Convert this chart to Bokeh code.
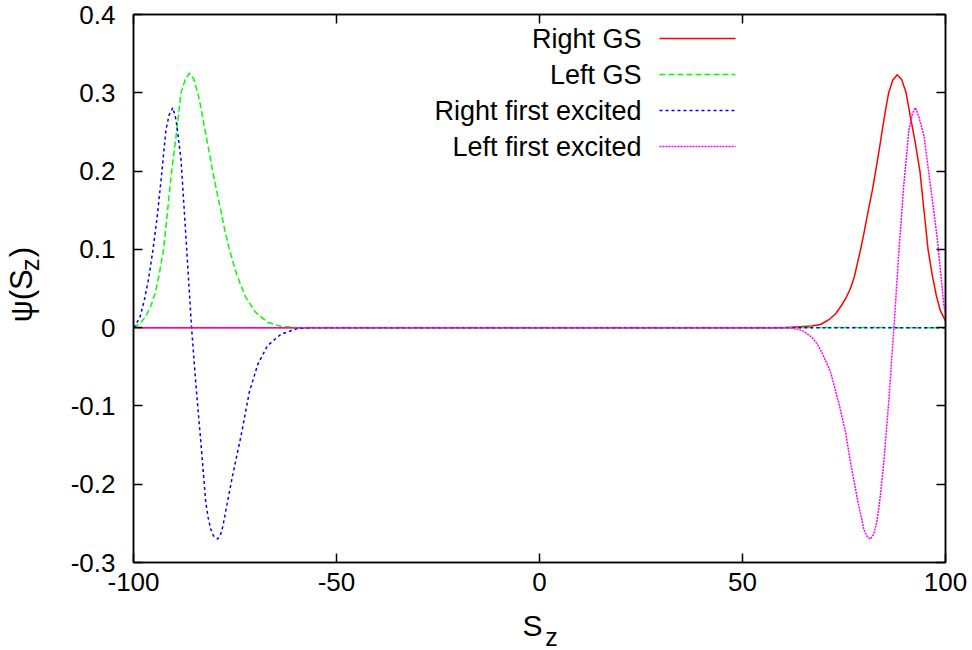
import numpy as np
from bokeh.plotting import figure
from bokeh.models import Range1d, FixedTicker, LinearAxis, Label
from bokeh.layouts import row, column
from bokeh.embed import file_html
from bokeh.resources import INLINE

# ---------------- data ----------------
right_gs_x = [-100, 60, 64, 67, 69.2, 71.5, 73.0, 74.2, 75.5, 76.5, 77.5, 78.3, 79.1, 80.0, 81.0, 82.0,
              82.8, 83.7, 84.5, 85.3, 86.0, 87.0, 88.1, 89.2, 90.3, 91.4, 92.6, 93.7, 94.7, 95.7, 96.7,
              97.7, 98.7, 100]
right_gs_y = [0, 0, 0.001, 0.002, 0.004, 0.011, 0.018, 0.027, 0.038, 0.049, 0.064, 0.082, 0.1, 0.123, 0.15,
              0.176, 0.2, 0.228, 0.255, 0.28, 0.3, 0.316, 0.323, 0.317, 0.3, 0.268, 0.235, 0.2, 0.15, 0.1,
              0.068, 0.042, 0.022, 0.0086]

left_gs_x = [-100, -99.4, -98.3, -97.0, -95.7, -94.6, -93.6, -92.6, -91.6, -90.6, -89.5, -88.3, -87.2,
             -86.2, -85.2, -84.2, -83.3, -82.5, -81.5, -80.5, -79.5, -78.5, -77.5, -76.4, -75.4, -74.5,
             -72.5, -70.0, -67.0, -64.0, -60.0, 100]
left_gs_y = [0, 0.002, 0.006, 0.014, 0.028, 0.045, 0.07, 0.1, 0.15, 0.2, 0.245, 0.3, 0.318,
             0.325, 0.318, 0.3, 0.279, 0.255, 0.228, 0.2, 0.174, 0.15, 0.124, 0.1, 0.082, 0.067,
             0.04, 0.02, 0.007, 0.002, 0.0003, 0]

right_ex_x = [-100, -99.4, -98.3, -97.3, -96.3, -95.3, -94.2, -93.2, -92.0, -91.2, -90.3, -89.5, -88.3,
              -87.1, -85.7, -84.6, -83.4, -82.2, -81.6, -81.0, -80.3, -79.3, -78.6, -78.0, -77.2, -75.6,
              -73.5, -71.5, -69.4, -67.0, -63.7, -59.6, -55, 100]
right_ex_y = [0, 0.004, 0.015, 0.036, 0.062, 0.096, 0.14, 0.189, 0.253, 0.272, 0.281, 0.265, 0.215,
              0.117, 0.0, -0.0745, -0.147, -0.2235, -0.243, -0.257, -0.266, -0.270, -0.265, -0.254, -0.232,
              -0.189, -0.138, -0.083, -0.047, -0.023, -0.0085, -0.001, 0, 0]

left_ex_x = [-100, 60, 62.7, 64.8, 66.8, 68.3, 69.6, 71.7, 73.7, 75.4, 76.6, 78.3, 79.9, 80.7, 81.5,
             82.3, 83.0, 83.6, 84.2, 84.8, 86.0, 87.3, 88.5, 89.7, 91.0, 91.9, 92.6, 93.5, 94.7, 96.3,
             98.0, 99.6, 100]
left_ex_y = [0, 0, -0.001, -0.004, -0.011, -0.02, -0.032, -0.057, -0.096, -0.134, -0.172, -0.219, -0.258,
             -0.267, -0.270, -0.264, -0.250, -0.230, -0.203, -0.172, -0.096, 0.0, 0.096, 0.181, 0.253,
             0.274, 0.281, 0.268, 0.245, 0.181, 0.113, 0.028, 0.019]

series_names = ["Right GS", "Left GS", "Right first excited", "Left first excited"]

x_ticks = [-100, -50, 0, 50, 100]
x_tick_labels = ["-100", "-50", "0", "50", "100"]
y_ticks = [-0.3, -0.2, -0.1, 0, 0.1, 0.2, 0.3, 0.4]
y_tick_labels = ["-0.3", "-0.2", "-0.1", "0", "0.1", "0.2", "0.3", "0.4"]

# ---------------- layout geometry (page pixels) ----------------
PAGE_W, PAGE_H = 972, 650
LEFT_W = 60            # strip holding the y-axis title
BOTTOM_H = 48          # strip holding the x-axis title
MAIN_W, MAIN_H = PAGE_W - LEFT_W, PAGE_H - BOTTOM_H
BL, BR, BT, BB = 73, 27, 14, 40
FW, FH = MAIN_W - BL - BR, MAIN_H - BT - BB
XMIN, XMAX, YMIN, YMAX = -100, 100, -0.3, 0.4
FONT = "Liberation Sans"
FRAME_LEFT_PX = LEFT_W + BL


def dx(px):  # page pixel -> data x of main plot
    return XMIN + (px - FRAME_LEFT_PX) * (XMAX - XMIN) / FW


def dy(py):  # page pixel -> data y of main plot
    return YMAX - (py - BT) * (YMAX - YMIN) / FH


p = figure(width=MAIN_W, height=MAIN_H, output_backend="svg", toolbar_location=None,
           x_range=Range1d(XMIN, XMAX), y_range=Range1d(YMIN, YMAX),
           min_border_left=BL, min_border_right=BR, min_border_top=BT, min_border_bottom=BB)
p.grid.visible = False
p.outline_line_color = "black"
p.outline_line_width = 1.5
p.background_fill_color = "white"
p.border_fill_color = "white"

p.add_layout(LinearAxis(), "right")
p.add_layout(LinearAxis(), "above")

for ax in p.xaxis:
    ax.ticker = FixedTicker(ticks=x_ticks)
    ax.major_label_overrides = {t: l for t, l in zip(x_ticks, x_tick_labels)}
for ax in p.yaxis:
    ax.ticker = FixedTicker(ticks=y_ticks)
    ax.major_label_overrides = {t: l for t, l in zip(y_ticks, y_tick_labels)}

for ax in p.axis:
    ax.major_tick_in = 9
    ax.major_tick_out = 0
    ax.minor_tick_line_color = None
    ax.axis_line_width = 1.5
    ax.major_tick_line_width = 1.5
    ax.axis_line_color = "black"
    ax.major_tick_line_color = "black"
    ax.major_label_text_font = FONT
    ax.major_label_text_font_size = "26px"
    ax.major_label_text_color = "black"

p.below[0].major_label_standoff = 10
p.left[0].major_label_standoff = 18
for ax in (p.right[0], p.above[0]):
    ax.major_label_text_font_size = "0px"
    ax.major_label_standoff = 0
p.right[0].major_label_overrides = {t: "" for t in y_ticks}
p.above[0].major_label_overrides = {t: "" for t in x_ticks}

# ---------------- curves ----------------
styles = [
    dict(color="#ff0000", dash="solid"),
    dict(color="#00ff00", dash="6 3"),
    dict(color="#0000ff", dash="3 3"),
    dict(color="#ff00ff", dash="2 1"),
]
data = [(right_gs_x, right_gs_y), (left_gs_x, left_gs_y),
        (right_ex_x, right_ex_y), (left_ex_x, left_ex_y)]

for (xs, ys), st in zip(data, styles):
    p.line(xs, ys, line_color=st["color"], line_width=1.5, line_dash=st["dash"], line_join="round")

# ---------------- legend (gnuplot style: text left, sample right) ----------------
legend_rows_py = [38, 74, 110, 146]
for name, st, py in zip(series_names, styles, legend_rows_py):
    p.add_layout(Label(x=dx(641), y=dy(py), text=name, text_align="right", text_baseline="middle",
                       text_font=FONT, text_font_size="27px", text_color="black"))
    p.line([dx(659), dx(735)], [dy(py), dy(py)], line_color=st["color"], line_width=1.5,
           line_dash=st["dash"])


def title_strip(width, height):
    """A bare figure whose data coordinates are pixels from its bottom-left corner."""
    f = figure(width=width, height=height, output_backend="svg", toolbar_location=None,
               x_range=Range1d(0, width), y_range=Range1d(0, height),
               x_axis_location=None, y_axis_location=None,
               min_border_left=0, min_border_right=0, min_border_top=0, min_border_bottom=0)
    f.grid.visible = False
    f.outline_line_color = None
    f.background_fill_color = "white"
    f.border_fill_color = "white"
    return f


def centered_label(fig, txt, px, py, size, page_y0, angle=0.0):
    fig.add_layout(Label(x=px, y=fig.height - (py - page_y0), text=txt, angle=angle,
                         text_align="center", text_baseline="middle", text_font=FONT,
                         text_font_size=size, text_color="black"))


# y-axis title: psi(S_z), rotated; centres given in page pixels
left_strip = title_strip(LEFT_W, MAIN_H)
centered_label(left_strip, "ψ(S", 21, 309, "31px", 0, np.pi / 2)
centered_label(left_strip, "z", 29, 275, "25px", 0, np.pi / 2)
centered_label(left_strip, ")", 21, 261, "31px", 0, np.pi / 2)

# x-axis title: S_z; centres given in page pixels
bottom_strip = title_strip(PAGE_W, BOTTOM_H)
centered_label(bottom_strip, "S", 532, 625, "30px", MAIN_H)
centered_label(bottom_strip, "z", 551, 636, "25px", MAIN_H)

layout = column(row(left_strip, p, spacing=0), bottom_strip, spacing=0)

open("out.html", "w").write(file_html(layout, INLINE))
